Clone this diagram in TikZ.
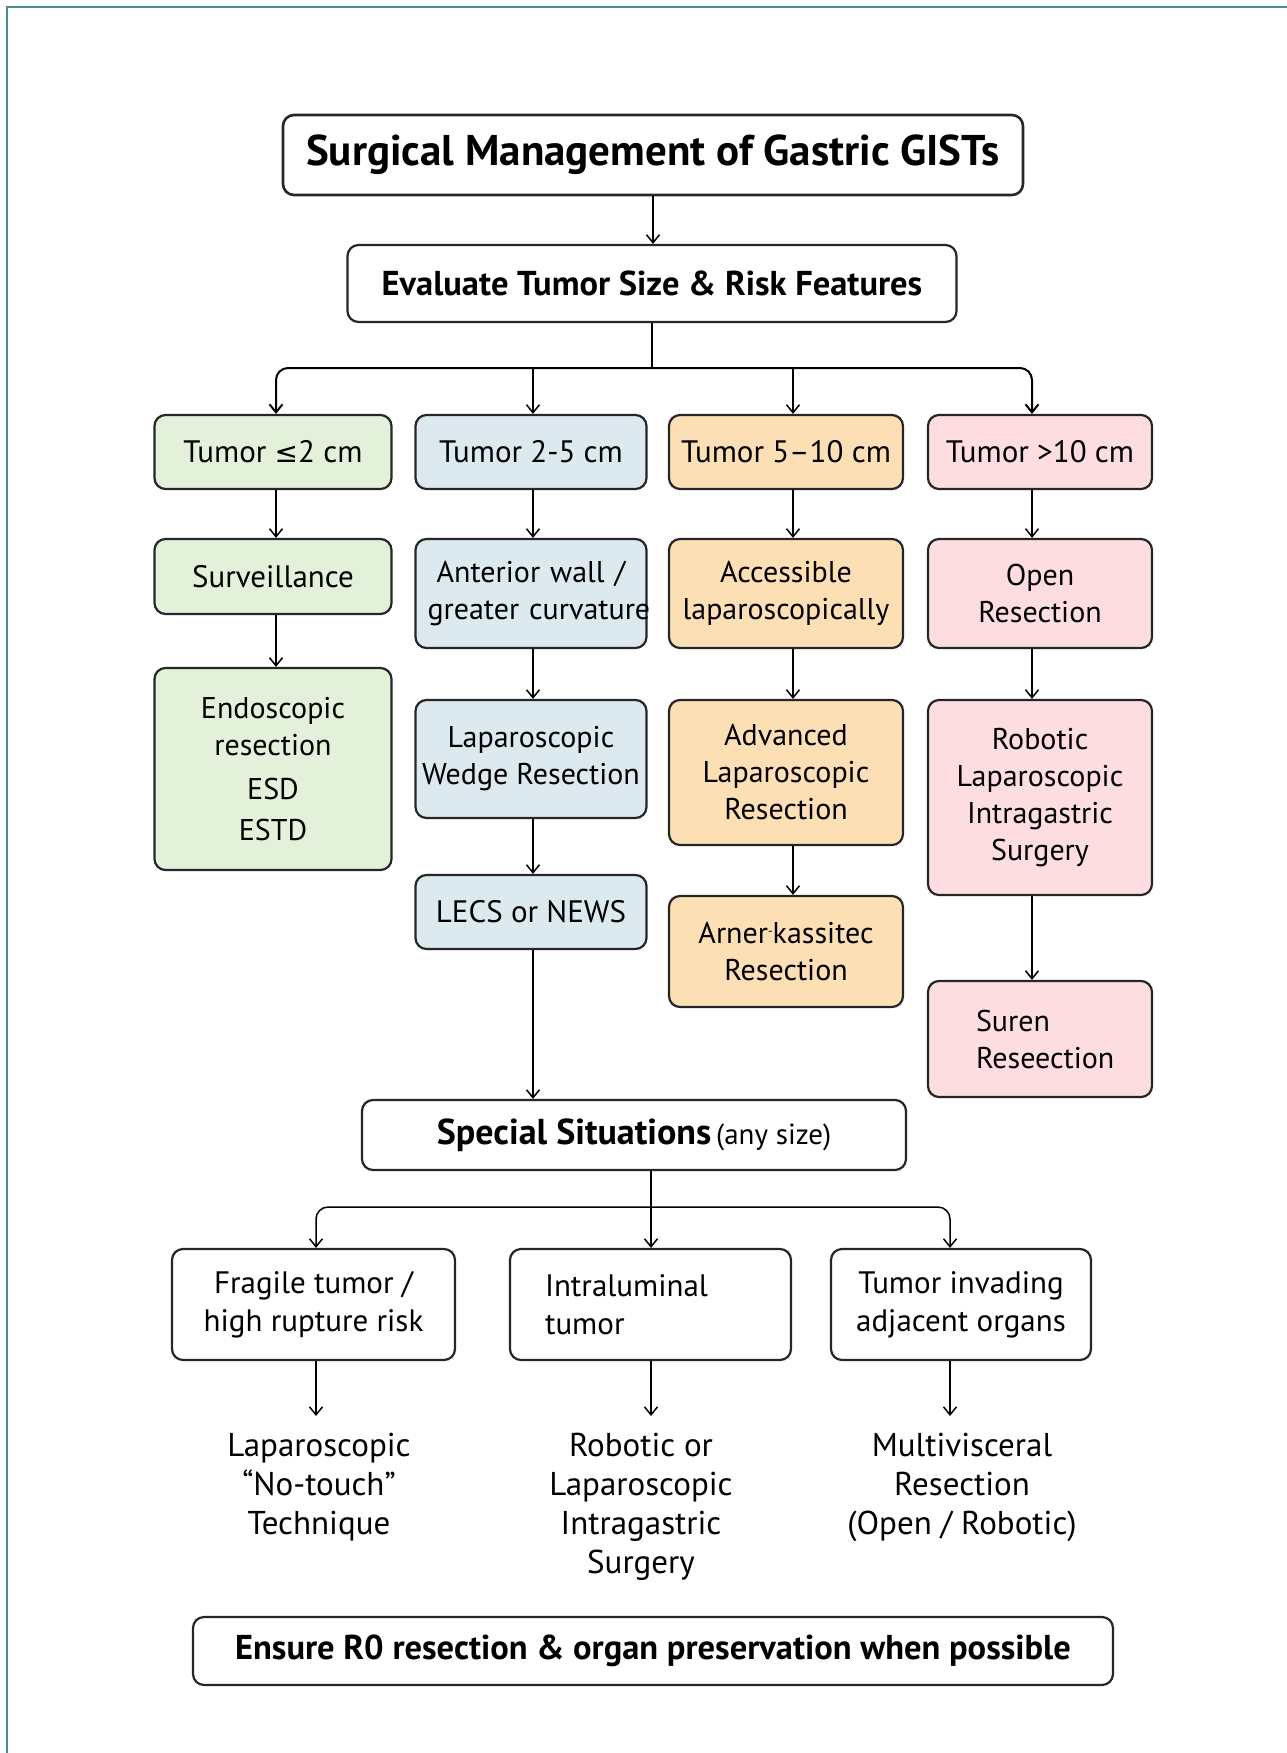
\documentclass[tikz,border=0pt]{standalone}
\usepackage{fontspec}
\setmainfont{PT Sans}
\newfontfamily\dejavu{DejaVu Sans}
\usetikzlibrary{arrows.meta}
\definecolor{frameteal}{HTML}{4A8C8C}
\definecolor{boxgreen}{HTML}{E4F1DA}
\definecolor{boxblue}{HTML}{DCEAF0}
\definecolor{boxorange}{HTML}{FDDFB5}
\definecolor{boxpink}{HTML}{FDDDE0}
\tikzset{
  box/.style = {draw=black!85, line width=2.2pt, rounded corners=11pt,
    align=center, inner sep=0pt, font=\fontsize{30}{37}\selectfont},
  wbox/.style = {box, fill=white},
  gbox/.style = {box, fill=boxgreen, minimum width=237pt},
  bbox/.style = {box, fill=boxblue, minimum width=231pt},
  obox/.style = {box, fill=boxorange, minimum width=234pt},
  pbox/.style = {box, fill=boxpink, minimum width=224pt},
  sizerow/.style = {font=\fontsize{31}{37}\selectfont},
  casebox/.style = {wbox, minimum height=111pt, font=\fontsize{31}{38}\selectfont},
  plain/.style = {align=center, inner sep=0pt, outer ysep=17pt,
    font=\fontsize{33}{39}\selectfont}
}
\begin{document}
\begin{tikzpicture}[x=1pt, y=-1pt, ->, >={Straight Barb[length=8pt, width=13pt]},
  line width=1.5pt]
\useasboundingbox (0,0) rectangle (1287,1753);
\draw[-, frameteal, line width=2.5pt, line join=miter] (7,1753) -- (7,7) -- (1287,7);

% column axes and branch levels
\coordinate (c1) at (276,0);
\coordinate (c2) at (533,0);
\coordinate (c3) at (793,0);
\coordinate (c4) at (1032,0);
\coordinate (bar) at (0,368);
\coordinate (d1) at (316,0);
\coordinate (d2) at (651,0);
\coordinate (d3) at (950,0);
\coordinate (bar2) at (0,1207);

% top
\node[wbox, minimum width=740pt, minimum height=80pt, line width=2.6pt,
  font=\bfseries\fontsize{43}{48}\selectfont] (title) at (653,155)
  {Surgical Management of Gastric GISTs};
\node[wbox, minimum width=609pt, minimum height=77pt,
  font=\bfseries\fontsize{34.5}{38}\selectfont] (eval) at (652,283.5)
  {Evaluate Tumor Size \& Risk Features};

% tumor size rows
\node[gbox, sizerow, minimum height=74pt] (t1) at (273,452) {Tumor {\dejavu\fontsize{28}{30}\selectfont ≤}2 cm};
\node[bbox, sizerow, minimum height=74pt] (t2) at (531,452) {Tumor 2-5 cm};
\node[obox, sizerow, minimum height=74pt] (t3) at (786,452) {Tumor 5–10 cm};
\node[pbox, sizerow, minimum height=74pt] (t4) at (1040,452) {Tumor >10 cm};

\node[gbox, sizerow, minimum height=75pt] (surv) at (273,576.5) {Surveillance};
\node[bbox, minimum height=109pt, text width=207pt, inner xsep=12pt] (ant) at (531,593.5)
  {Anterior wall /\\\mbox{greater curvature}};
\node[obox, minimum height=109pt] (acc) at (786,593.5) {Accessible\\laparoscopically};
\node[pbox, minimum height=109pt] (open) at (1040,593.5) {Open\\Resection};

\node[gbox, minimum height=202pt] (endo) at (273,769)
  {Endoscopic\\resection\\[7pt]ESD\\[4pt]ESTD};
\node[bbox, minimum height=118pt] (wedge) at (531,759) {Laparoscopic\\Wedge Resection};
\node[obox, minimum height=145pt] (adv) at (786,772.5) {Advanced\\Laparoscopic\\Resection};
\node[pbox, minimum height=195pt] (robot) at (1040,797.5)
  {Robotic\\Laparoscopic\\Intragastric\\Surgery};

\node[bbox, sizerow, minimum height=74pt] (lecs) at (531,912) {LECS or NEWS};
\node[obox, minimum height=111pt] (arner) at (786,951.5)
  {Arner\raisebox{0.5ex}{\fontsize{13}{13}\selectfont -}kassitec\\Resection};
\node[pbox, minimum height=116pt, text width=128pt, inner xsep=48pt, align=left]
  (suren) at (1040,1039) {Suren\\Reseection};

% special situations
\node[wbox, minimum width=544pt, minimum height=70pt] (special) at (634,1135)
  {{\bfseries\fontsize{36}{40}\selectfont Special Situations}\,{\fontsize{29}{32}\selectfont(any size)}};
\node[casebox, minimum width=283pt] (frag) at (313.5,1304.5) {Fragile tumor /\\high rupture risk};
\node[casebox, text width=211pt, inner xsep=35pt, align=left] (intra) at (650.5,1304.5)
  {Intraluminal\\tumor};
\node[casebox, minimum width=260pt] (inv) at (961,1304.5) {Tumor invading\\adjacent organs};

\node[plain, anchor=north] (notouch) at (319,1416) {Laparoscopic\\“No-touch”\\Technique};
\node[plain, anchor=north] (intrag) at (641,1416) {Robotic or\\Laparoscopic\\Intragastric\\Surgery};
\node[plain, anchor=north] (multi) at (962,1416) {Multivisceral\\Resection\\(Open / Robotic)};

\node[wbox, minimum width=920pt, minimum height=68pt,
  font=\bfseries\fontsize{34.5}{38}\selectfont] (ensure) at (653,1651)
  {Ensure R0 resection \& organ preservation when possible};

% connectors
\draw (title.south) -- (title.south |- eval.north);
\draw[-] (eval.south) -- (bar -| eval.south);
\draw[rounded corners=12pt, line width=2pt] (bar -| eval.south) -| (t1.north -| c1);
\draw[rounded corners=12pt, line width=2pt] (bar -| eval.south) -| (t4.north -| c4);
\draw (bar -| c2) -- (t2.north -| c2);
\draw (bar -| c3) -- (t3.north -| c3);

\draw (t1.south -| c1) -- (surv.north -| c1);
\draw (surv.south -| c1) -- (endo.north -| c1);
\draw (t2.south -| c2) -- (ant.north -| c2);
\draw (ant.south -| c2) -- (wedge.north -| c2);
\draw (wedge.south -| c2) -- (lecs.north -| c2);
\draw (lecs.south -| c2) -- (special.north -| c2);
\draw (t3.south -| c3) -- (acc.north -| c3);
\draw (acc.south -| c3) -- (adv.north -| c3);
\draw (adv.south -| c3) -- (arner.north -| c3);
\draw (t4.south -| c4) -- (open.north -| c4);
\draw (open.south -| c4) -- (robot.north -| c4);
\draw (robot.south -| c4) -- (suren.north -| c4);

\draw (special.south -| d2) -- (intra.north -| d2);
\draw[rounded corners=12pt] (bar2 -| d2) -| (frag.north -| d1);
\draw[rounded corners=12pt] (bar2 -| d2) -| (inv.north -| d3);
\draw (frag.south -| d1) -- (notouch.north -| d1);
\draw (intra.south -| d2) -- (intrag.north -| d2);
\draw (inv.south -| d3) -- (multi.north -| d3);
\end{tikzpicture}
\end{document}
